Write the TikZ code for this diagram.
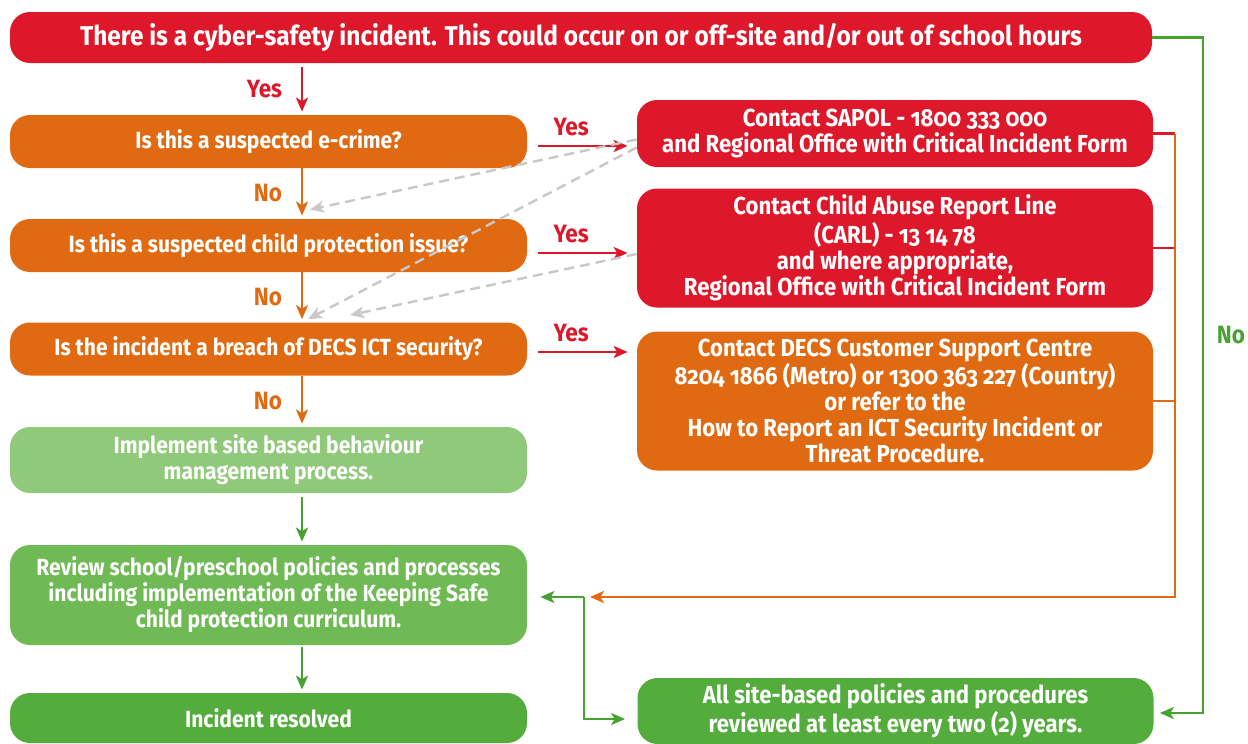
\documentclass[tikz,border=0pt]{standalone}
\usepackage{fontspec}
\setmainfont{Fira Sans}[FakeStretch=0.9,Numbers=OldStyle]
\usetikzlibrary{arrows.meta,calc}
\definecolor{cyred}{RGB}{221,24,42}
\definecolor{cyorange}{RGB}{224,106,18}
\definecolor{cylight}{RGB}{145,201,122}
\definecolor{cymid}{RGB}{112,186,86}
\definecolor{cydark}{RGB}{84,172,60}
\definecolor{cygreen}{RGB}{72,162,50}
\definecolor{cygrey}{RGB}{200,200,200}

\begin{document}
\begin{tikzpicture}[x=0.5pt,y=-0.5pt,
    box/.style={rounded corners=10pt,text=white,align=center,inner sep=0pt,
      font=\bfseries\fontsize{11.7}{13}\selectfont},
    qbox/.style={box,fill=cyorange,minimum width=258.5pt,minimum height=26.5pt},
    rbox/.style={box,minimum width=258pt,font=\bfseries\fontsize{12.3}{13}\selectfont},
    link/.style={line width=1.3pt,-{Stealth[length=7pt,width=6pt,inset=1.8pt]}},
    lbl/.style={font=\bfseries\fontsize{12.5}{13}\selectfont},
    ghost/.style={draw=cygrey,line width=1.2pt,dash pattern=on 5pt off 3pt,
      -{Stealth[length=7pt,width=6pt,inset=1.8pt]}}]
    \useasboundingbox (0,0) rectangle (1248,744);

    % left column
    \node[box,fill=cyred,minimum width=571pt,minimum height=25.5pt,
      font=\bfseries\fontsize{13.6}{15}\selectfont] (incident) at (581,37.5)
      {There is a cyber-safety incident. This could occur on or off-site and/or out of school hours};
    \node[qbox] (crime) at (268.5,141.5) {Is this a suspected e-crime?};
    \node[qbox] (childq) at (268.5,245.5) {Is this a suspected child protection issue?};
    \node[qbox] (breachq) at (268.5,349) {Is the incident a breach of DECS ICT security?};
    \node[box,fill=cylight,minimum width=258.5pt,minimum height=33pt] (implement) at (268.5,460)
      {Implement site based behaviour\\management process.};
    \node[box,fill=cymid,minimum width=258.5pt,minimum height=50pt] (review) at (268.5,595)
      {Review school/preschool policies and processes\\including implementation of the Keeping Safe\\child protection curriculum.};
    \node[box,fill=cydark,minimum width=258.5pt,minimum height=25pt] (resolved) at (268.5,718)
      {Incident resolved};

    % right column
    \node[rbox,fill=cyred,minimum height=33.5pt] (sapol) at (895,133.5)
      {Contact SAPOL - 1800 333 000\\and Regional Office with Critical Incident Form};
    \node[rbox,fill=cyred,minimum height=59.5pt] (carl) at (895,248)
      {Contact Child Abuse Report Line\\(CARL) - 13 14 78\\and where appropriate,\\Regional Office with Critical Incident Form};
    \node[rbox,fill=cyorange,minimum height=69.5pt] (decs) at (895,401)
      {Contact DECS Customer Support Centre\\8204 1866 (Metro) or 1300 363 227 (Country)\\or refer to the\\How to Report an ICT Security Incident or\\Threat Procedure.};
    \node[rbox,fill=cydark,minimum height=33pt] (policy) at (895.5,711)
      {All site-based policies and procedures\\reviewed at least every two (2) years.};

    \coordinate (spine) at (302,0);
    \coordinate (obus) at (1175,0);
    \coordinate (gbus) at (1203,0);
    \coordinate (rjoin) at (584,597);

    % down the left
    \draw[link,cyred,shorten <=2pt,shorten >=1.5pt] (incident.south -| spine) -- (crime.north -| spine)
      node[midway,left=6pt,lbl,text=cyred] {Yes};
    \draw[link,cyorange,shorten >=1.5pt] (crime.south -| spine) -- (childq.north -| spine)
      node[midway,left=6pt,lbl] {No};
    \draw[link,cyorange,shorten >=1.5pt] (childq.south -| spine) -- (breachq.north -| spine)
      node[midway,left=6pt,lbl] {No};
    \draw[link,cyorange,shorten >=1.5pt] (breachq.south -| spine) -- (implement.north -| spine)
      node[midway,left=6pt,lbl] {No};
    \draw[link,cygreen,shorten <=2pt,shorten >=1.5pt] (implement.south -| spine) -- (review.north -| spine);
    \draw[link,cygreen,shorten <=1pt,shorten >=1.5pt] (review.south -| spine) -- (resolved.north -| spine);

    % yes branches
    \draw[link,cyred,shorten <=5.5pt,shorten >=4.5pt] ($(crime.east)+(0,4.5)$) -- ($(crime.east -| sapol.west)+(0,4.5)$)
      node[pos=0.4,above=1pt,lbl] {Yes};
    \draw[link,cyred,shorten <=5.5pt,shorten >=4.5pt] ($(childq.east)+(0,7.5)$) -- ($(childq.east -| carl.west)+(0,7.5)$)
      node[pos=0.4,above=1pt,lbl] {Yes};
    \draw[link,cyred,shorten <=5.5pt,shorten >=4.5pt] ($(breachq.east)+(0,3)$) -- ($(breachq.east -| decs.west)+(0,3)$)
      node[pos=0.4,above=1pt,lbl] {Yes};

    % grey fall-backs
    \draw[ghost] ($(sapol.west)+(0,6)$) -- ($(childq.north -| spine)+(8,-9)$);
    \draw[ghost] ($(sapol.west)+(0,14)$) -- ($(breachq.north -| spine)+(6,-3)$);
    \draw[ghost] ($(carl.west)+(0,6)$) -- ($(breachq.north -| spine)+(48,-7)$);

    % right hand bus back to the review
    \draw[line width=1.3pt,cyred] (sapol.east) -- (sapol.east -| obus);
    \draw[line width=1.3pt,cyred] (carl.east) -- (carl.east -| obus);
    \draw[line width=1.3pt,cyorange] (decs.east) -- (decs.east -| obus);
    \draw[link,cyorange,shorten >=3pt] (sapol.east -| obus) -- (obus |- rjoin) -- (rjoin);
    \draw[link,cygreen,shorten >=6.5pt] (rjoin) -- (review.east |- rjoin);
    \draw[link,cygreen,shorten >=6pt] (rjoin) -- ($(rjoin |- policy.west)+(0,8)$) -- ($(policy.west)+(0,8)$);

    % no path round the outside
    \draw[link,cygreen,shorten >=3pt] (incident.east) -- (incident.east -| gbus) -- ($(gbus |- policy.east)+(0,2)$)
      node[pos=0.44,right=3pt,lbl] {No} -- ($(policy.east)+(0,2)$);
\end{tikzpicture}
\end{document}
